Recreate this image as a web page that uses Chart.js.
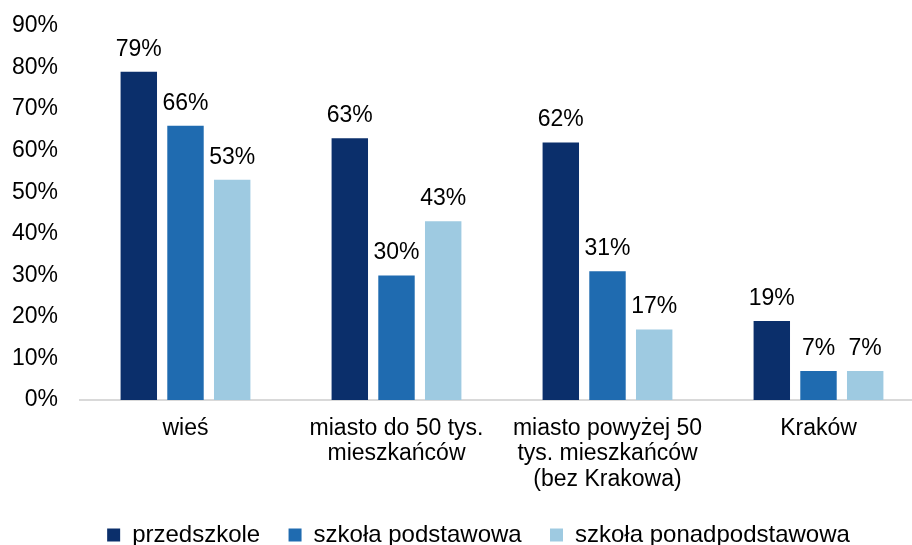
<!DOCTYPE html>
<html>
<head>
<meta charset="utf-8">
<script src="https://cdn.jsdelivr.net/npm/chart.js"></script>
<style>
  html, body { margin: 0; padding: 0; background: #fff; overflow: hidden; }
  #wrap { width: 924px; height: 557px; position: relative; }
</style>
</head>
<body>
<div id="wrap"><canvas id="chart"></canvas></div>
<script>
  const CATEGORIES = [
    'wieś',
    ['miasto do 50 tys.', 'mieszkańców'],
    ['miasto powyżej 50', 'tys. mieszkańców', '(bez Krakowa)'],
    'Kraków'
  ];
  const SERIES_NAMES = ['przedszkole', 'szkoła podstawowa', 'szkoła ponadpodstawowa'];
  const PRZEDSZKOLE = [79, 63, 62, 19];
  const PODSTAWOWA = [66, 30, 31, 7];
  const PONADPODSTAWOWA = [53, 43, 17, 7];
  const COLORS = ['#0b2f6b', '#1f6bb0', '#9ecae1'];

  const FONT = 'Arial, "Liberation Sans", sans-serif';

  // draws the value labels above each bar
  const valueLabels = {
    id: 'valueLabels',
    afterDatasetsDraw(chart) {
      const ctx = chart.ctx;
      ctx.save();
      ctx.font = '23px ' + FONT;
      ctx.fillStyle = '#000';
      ctx.textAlign = 'center';
      ctx.textBaseline = 'bottom';
      chart.data.datasets.forEach((ds, i) => {
        chart.getDatasetMeta(i).data.forEach((bar, j) => {
          ctx.fillText(ds.data[j] + '%', bar.x, bar.y - 11);
        });
      });
      ctx.restore();
    }
  };

  // legend in the original sits a bit right of centre
  const legendShift = {
    id: 'legendShift',
    afterLayout(chart) { chart.legend.left += 33; }
  };

  const datasets = [PRZEDSZKOLE, PODSTAWOWA, PONADPODSTAWOWA].map((values, i) => ({
    label: SERIES_NAMES[i],
    data: values,
    backgroundColor: COLORS[i],
    barPercentage: 0.78,
    categoryPercentage: 0.664
  }));

  new Chart(document.getElementById('chart'), {
    type: 'bar',
    data: { labels: CATEGORIES, datasets },
    plugins: [valueLabels, legendShift],
    options: {
      responsive: true,
      maintainAspectRatio: false,
      animation: false,
      layout: { padding: 0 },
      plugins: {
        tooltip: { enabled: false },
        legend: {
          position: 'bottom',
          labels: {
            color: '#000',
            font: { family: FONT, size: 24 },
            boxWidth: 13, boxHeight: 13,
            padding: 15,
            generateLabels(chart) {
              const items = Chart.defaults.plugins.legend.labels.generateLabels(chart);
              items.forEach((it, i) => { if (i < items.length - 1) it.text += '  '; });
              return items;
            }
          }
        }
      },
      scales: {
        x: {
          grid: { display: false, drawTicks: false },
          border: { color: '#d9d9d9', width: 2 },
          ticks: { color: '#000', font: { family: FONT, size: 23, lineHeight: 1.1 }, padding: 16, maxRotation: 0 }
        },
        y: {
          min: 0, max: 90,
          grid: { display: false, drawTicks: false },
          border: { display: false },
          afterFit(scale) {
            scale.width = 80;
            scale.paddingTop = 26;
            scale.paddingBottom = 0;
          },
          ticks: {
            stepSize: 10,
            color: '#000',
            font: { family: FONT, size: 23 },
            padding: 22,
            callback: v => v + '%'
          }
        }
      }
    }
  });
</script>
</body>
</html>
